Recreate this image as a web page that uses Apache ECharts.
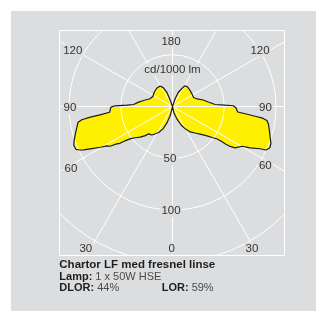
<!DOCTYPE html>
<html>
<head>
<meta charset="utf-8">
<script src="https://cdn.jsdelivr.net/npm/echarts@6/dist/echarts.min.js"></script>
<style>
  html, body { margin: 0; padding: 0; background: #ffffff; }
  #bg { position: absolute; left: 11px; top: 11px; width: 305px; height: 300px; background: #dcdddf; }
  #chart { position: absolute; left: 0; top: 0; width: 316px; height: 311px; }
</style>
</head>
<body>
<div id="bg"></div>
<div id="chart"></div>
<script>
// ---- data (gamma angle in degrees from nadir, intensity in cd/1000 lm) ----
const leftGamma = [0,14,19,23,28,32,36,41,43,46.5,50,52.5,54,55,56.5,57.5,59,60.5,62.8,64,65,66,68.4,71,74.3,77.8,80.6,81.7,82.6,83.4,84.8,89.4,90.7,91.7,92.9,97.3,101.7,109,117,128,139,149,154,158,160,180];
const leftCd    = [0,9,17,23.5,28.5,31,34,35,38.5,43,47,51,56,62,66,71.5,74,80,89.5,95.5,99.5,102,102.5,100.5,97.5,94.5,92.5,88.5,80,70.5,61,59.5,55.5,44,37.7,33,28.5,23,21.3,22.4,23.3,23,20,15,8,0];
const rightGamma = [0,13,20,25,30,35,40.5,45,49,52,54,54.6,54.8,55.3,56.6,60.2,62,64.3,65.1,67,69.4,72,75.5,79.4,81.6,82.5,83.2,84.2,85.2,89,90.7,91.4,92.7,97.2,102,107,113,121,132,142.7,149.5,152.4,157.8,161.4,180];
const rightCd    = [0,7,13.3,19.7,25.2,30,33.7,37.7,43,48.7,53.4,58.3,63.2,67.8,72.5,77.3,85.1,94.1,99.8,102.1,101.6,99.3,96.8,94.4,92.2,88.4,81.4,71.6,63.2,61.1,58.6,50.9,41.3,34.8,30.3,24.9,22.1,22.3,23,23.9,23.2,19.6,14.6,8.2,0];

const angleTicks = ['180', '120', '120', '90', '90', '60', '60', '30', '0', '30'];
const radialTicks = ['50', '100'];
const unitLabel = 'cd/1000 lm';
const titleText = 'Chartor LF med fresnel linse';
const lampLabel = 'Lamp:';
const lampValue = '1 x 50W HSE';
const dlorLabel = 'DLOR:';
const dlorValue = '44%';
const lorLabel = 'LOR:';
const lorValue = '59%';

// ---- layout (not data) ----
const GREY = '#dcdddf';
const angleTickPos = [[171, 41.5], [72.8, 50.5], [260, 50.5], [70, 108], [265.5, 108], [71, 168.5], [265.3, 165.5], [85.8, 248.5], [171.7, 248.5], [252, 248.5]];
const radialTickPos = [[170, 159], [171, 211]];
const unitPos = [172.5, 69.5];

// left half: angle value = gamma (clockwise from nadir to the left); right half: 360 - gamma
const curve = [];
for (let i = 0; i < leftGamma.length; i++) curve.push([leftCd[i], leftGamma[i]]);
for (let i = rightGamma.length - 2; i >= 0; i--) curve.push([rightCd[i], 360 - rightGamma[i]]);

const chart = echarts.init(document.getElementById('chart'), null, { renderer: 'canvas' });

const tickFont = '11.5px "Liberation Sans", Arial, sans-serif';
function label(text, pos) {
  return {
    type: 'text', x: pos[0], y: pos[1], z: 60,
    style: {
      text: text, font: tickFont, fill: '#333333',
      align: 'center', verticalAlign: 'middle',
      textAlign: 'center', textVerticalAlign: 'middle',
      backgroundColor: GREY, padding: [0, 1]
    }
  };
}

const graphics = [
  { type: 'rect', z: 50, shape: { x: 0, y: 0, width: 316, height: 30 }, style: { fill: GREY } },
  { type: 'rect', z: 50, shape: { x: 0, y: 256, width: 316, height: 55 }, style: { fill: GREY } },
  { type: 'rect', z: 50, shape: { x: 0, y: 0, width: 59, height: 311 }, style: { fill: GREY } },
  { type: 'rect', z: 50, shape: { x: 285, y: 0, width: 31, height: 311 }, style: { fill: GREY } },
  { type: 'rect', z: 51, shape: { x: 0, y: 0, width: 11, height: 311 }, style: { fill: '#ffffff' } },
  { type: 'rect', z: 51, shape: { x: 0, y: 0, width: 316, height: 11 }, style: { fill: '#ffffff' } },
  { type: 'rect', z: 55, shape: { x: 59.5, y: 30.5, width: 225, height: 225 }, style: { fill: 'none', stroke: '#ffffff', lineWidth: 1 } },
  label(unitLabel, unitPos)
];
angleTicks.forEach((t, i) => graphics.push(label(t, angleTickPos[i])));
radialTicks.forEach((t, i) => graphics.push(label(t, radialTickPos[i])));

const boldF = 'bold 11px "Liberation Sans", Arial, sans-serif';
const regF = '11px "Liberation Sans", Arial, sans-serif';
graphics.push({
  type: 'text', x: 59.3, y: 264.5, z: 60,
  style: { text: titleText, font: 'bold 11.5px "Liberation Sans", Arial, sans-serif', fill: '#1e1e1e', align: 'left', verticalAlign: 'middle', textAlign: 'left', textVerticalAlign: 'middle' }
});
graphics.push({
  type: 'text', x: 59.3, y: 276.5, z: 60,
  style: {
    text: '{b|' + lampLabel + '}{r| ' + lampValue + '}',
    align: 'left', verticalAlign: 'middle', textAlign: 'left', textVerticalAlign: 'middle',
    rich: { b: { font: boldF, fill: '#1e1e1e' }, r: { font: regF, fill: '#4a4a4a' } }
  }
});
graphics.push({
  type: 'text', x: 59.3, y: 288, z: 60,
  style: {
    text: '{b|' + dlorLabel + '}{r| ' + dlorValue + '}',
    align: 'left', verticalAlign: 'middle', textAlign: 'left', textVerticalAlign: 'middle',
    rich: { b: { font: boldF, fill: '#1e1e1e' }, r: { font: regF, fill: '#4a4a4a' } }
  }
});
graphics.push({
  type: 'text', x: 161.7, y: 288, z: 60,
  style: {
    text: '{b|' + lorLabel + '}{r| ' + lorValue + '}',
    align: 'left', verticalAlign: 'middle', textAlign: 'left', textVerticalAlign: 'middle',
    rich: { b: { font: boldF, fill: '#1e1e1e' }, r: { font: regF, fill: '#4a4a4a' } }
  }
});

chart.setOption({
  animation: false,
  backgroundColor: 'transparent',
  polar: { center: [172.5, 106.5], radius: 207 },
  angleAxis: {
    type: 'value', min: 0, max: 360, interval: 30, startAngle: 270, clockwise: true, z: 5,
    axisLine: { show: false }, axisTick: { show: false }, axisLabel: { show: false },
    splitLine: { show: true, lineStyle: { color: '#ffffff', width: 1 } }
  },
  radiusAxis: {
    type: 'value', min: 0, max: 200, interval: 50, z: 5,
    axisLine: { show: false }, axisTick: { show: false }, axisLabel: { show: false },
    splitLine: { show: true, lineStyle: { color: '#ffffff', width: 1 } }
  },
  series: [
    {
      type: 'line', coordinateSystem: 'polar', data: curve, z: 1,
      symbol: 'none', smooth: false, silent: true,
      lineStyle: { width: 0, opacity: 0 },
      areaStyle: { color: '#fff000', opacity: 1 }
    },
    {
      type: 'line', coordinateSystem: 'polar', data: curve, z: 10,
      symbol: 'none', smooth: false, silent: true,
      lineStyle: { color: '#1a1a1a', width: 1.2 }
    }
  ],
  graphic: { elements: graphics }
});
</script>
</body>
</html>
